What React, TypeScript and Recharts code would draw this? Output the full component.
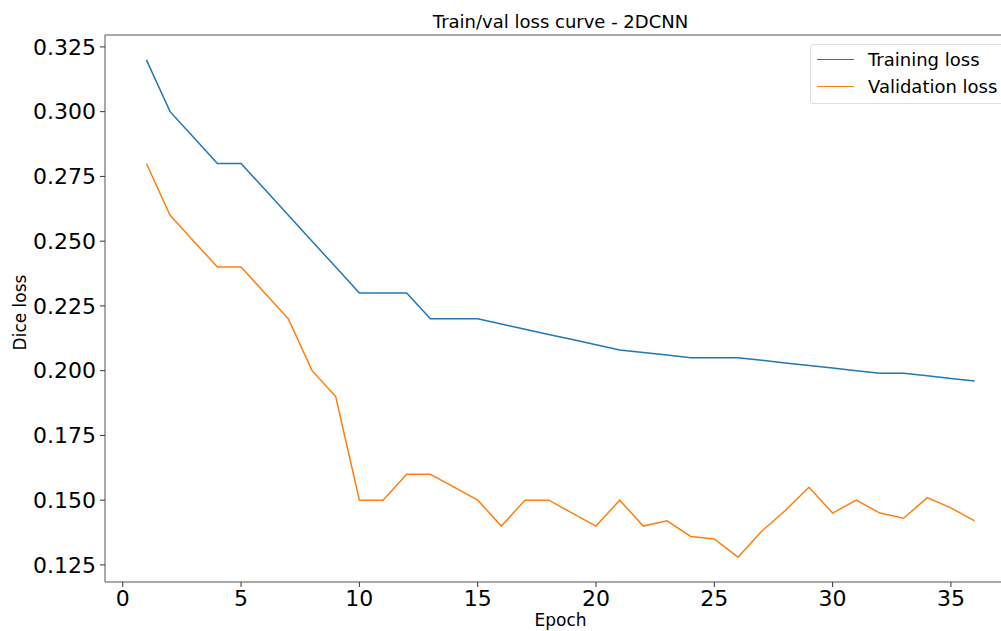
import React from 'react';
import { LineChart, Line, XAxis, YAxis, Legend, ReferenceLine } from 'recharts';

const epochs = [
  1, 2, 3, 4, 5, 6, 7, 8, 9, 10, 11, 12, 13, 14, 15, 16, 17, 18,
  19, 20, 21, 22, 23, 24, 25, 26, 27, 28, 29, 30, 31, 32, 33, 34, 35, 36,
];

const trainingLoss = [
  0.32, 0.3, 0.29, 0.28, 0.28, 0.27, 0.26, 0.25, 0.24, 0.23, 0.23, 0.23,
  0.22, 0.22, 0.22, 0.218, 0.216, 0.214, 0.212, 0.21, 0.208, 0.207, 0.206, 0.205,
  0.205, 0.205, 0.204, 0.203, 0.202, 0.201, 0.2, 0.199, 0.199, 0.198, 0.197, 0.196,
];

const validationLoss = [
  0.28, 0.26, 0.25, 0.24, 0.24, 0.23, 0.22, 0.2, 0.19, 0.15, 0.15, 0.16,
  0.16, 0.155, 0.15, 0.14, 0.15, 0.15, 0.145, 0.14, 0.15, 0.14, 0.142, 0.136,
  0.135, 0.128, 0.138, 0.146, 0.155, 0.145, 0.15, 0.145, 0.143, 0.151, 0.147, 0.142,
];

const xTicks = [0, 5, 10, 15, 20, 25, 30, 35];
const yTicks = [0.125, 0.15, 0.175, 0.2, 0.225, 0.25, 0.275, 0.3, 0.325];

const data = epochs.map((epoch, i) => ({
  epoch,
  training: trainingLoss[i],
  validation: validationLoss[i],
}));

const FONT = '"DejaVu Sans", sans-serif';
const BLUE = '#1f77b4';
const ORANGE = '#ff7f0e';
const SPINE = '#555';
const Y_MIN = 0.1184;
const Y_MAX = 0.3296;

const series = [
  { name: 'Training loss', color: BLUE },
  { name: 'Validation loss', color: ORANGE },
];

function LegendBox() {
  return (
    <div
      style={{
        border: '1px solid #ddd',
        borderRadius: 3,
        background: 'rgba(255,255,255,0.8)',
        padding: '1px 10px 3px 6px',
        fontFamily: FONT,
        fontSize: 18,
        lineHeight: '27px',
      }}
    >
      {series.map((s) => (
        <div key={s.name} style={{ display: 'flex', alignItems: 'center', whiteSpace: 'nowrap' }}>
          <span style={{ display: 'inline-block', width: 37, height: 0, borderTop: `1.5px solid ${s.color}`, marginRight: 14 }} />
          <span>{s.name}</span>
        </div>
      ))}
    </div>
  );
}

export default function App() {
  return (
    <div
      style={{
        position: 'fixed',
        top: 0,
        left: 0,
        width: 1001,
        height: 631,
        overflow: 'hidden',
        background: '#fff',
      }}
    >
      <LineChart
        width={1030}
        height={631}
        data={data}
        margin={{ top: 35, right: 14, left: 10, bottom: 9 }}
      >
        <XAxis
          dataKey="epoch"
          type="number"
          domain={[-0.75, 37.75]}
          ticks={xTicks}
          allowDataOverflow
          tickSize={5}
          tickMargin={3}
          height={40}
          axisLine={{ stroke: SPINE, strokeWidth: 1 }}
          tickLine={{ stroke: '#333' }}
          tick={{ fill: '#000', fontSize: 22, fontFamily: FONT }}
          label={{
            content: ({ viewBox }: any) => (
              <text
                x={viewBox.x + viewBox.width / 2}
                y={viewBox.y + 44}
                textAnchor="middle"
                fontSize={17}
                fontFamily={FONT}
                fill="#000"
              >
                Epoch
              </text>
            ),
          }}
        />
        <YAxis
          type="number"
          domain={[Y_MIN, Y_MAX]}
          ticks={yTicks}
          allowDataOverflow
          width={95}
          tickSize={5}
          tickMargin={4}
          tickFormatter={(v: number) => v.toFixed(3)}
          axisLine={{ stroke: SPINE, strokeWidth: 1 }}
          tickLine={{ stroke: '#333' }}
          tick={{ fill: '#000', fontSize: 22, fontFamily: FONT }}
          label={{
            content: ({ viewBox }: any) => {
              const cx = viewBox.x + 10;
              const cy = viewBox.y + viewBox.height / 2 + 4;
              return (
                <text
                  x={cx}
                  y={cy}
                  transform={`rotate(-90 ${cx} ${cy})`}
                  textAnchor="middle"
                  dominantBaseline="central"
                  fontSize={17}
                  fontFamily={FONT}
                  fill="#000"
                >
                  Dice loss
                </text>
              );
            },
          }}
        />
        <ReferenceLine
          y={Y_MAX}
          stroke={SPINE}
          strokeWidth={1}
          label={{
            content: ({ viewBox }: any) => (
              <text
                x={viewBox.x + viewBox.width / 2}
                y={viewBox.y - 7}
                textAnchor="middle"
                fontSize={18}
                fontFamily={FONT}
                fill="#000"
              >
                Train/val loss curve - 2DCNN
              </text>
            ),
          }}
        />
        <Legend
          layout="horizontal"
          verticalAlign="middle"
          align="center"
          content={() => <LegendBox />}
          wrapperStyle={{ top: 44, left: 810, width: 'auto' }}
        />
        <Line
          dataKey="training"
          name="Training loss"
          stroke={BLUE}
          strokeWidth={1.5}
          dot={false}
          isAnimationActive={false}
        />
        <Line
          dataKey="validation"
          name="Validation loss"
          stroke={ORANGE}
          strokeWidth={1.5}
          dot={false}
          isAnimationActive={false}
        />
      </LineChart>
    </div>
  );
}
